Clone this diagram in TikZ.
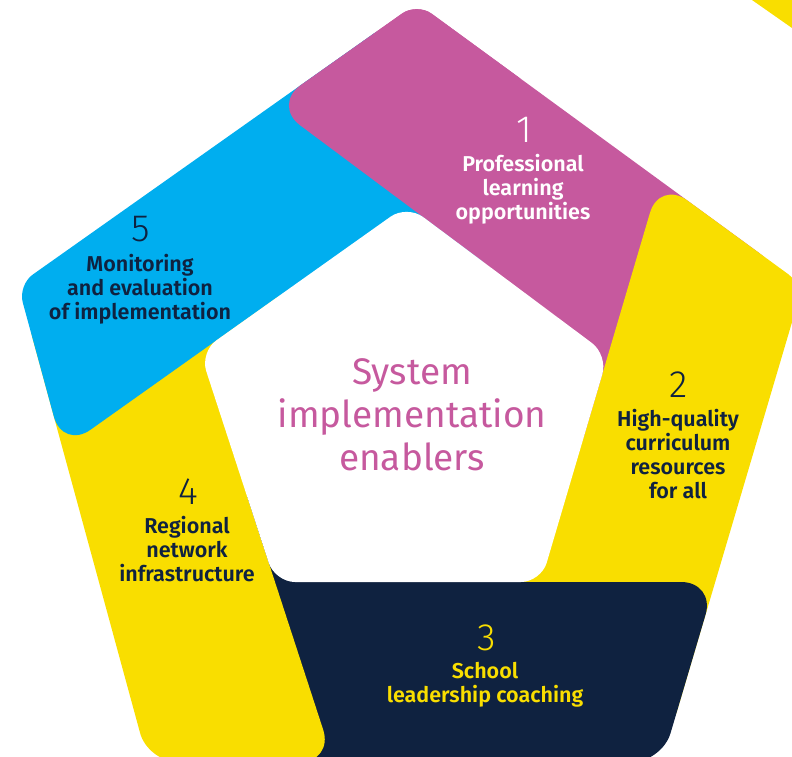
\documentclass[tikz,border=0pt]{standalone}
\usepackage{fontspec}
\setmainfont{Fira Sans}[BoldFont={Fira Sans SemiBold}]
\newfontfamily\lightfont{Fira Sans Light}
\usetikzlibrary{calc}

\definecolor{enpink}{HTML}{C6599E}
\definecolor{enblue}{HTML}{00AEEF}
\definecolor{enyellow}{HTML}{F9DE00}
\definecolor{ennavy}{HTML}{0F2240}

\begin{document}
\begin{tikzpicture}[x=1pt, y=-1pt,
  every node/.style={inner sep=0pt},
  segment/.style={rounded corners=34pt},
  number/.style={font=\lightfont\fontsize{38}{38}\selectfont},
  enabler/.style={font=\bfseries\fontsize{21.5}{24}\selectfont, align=center},
  title/.style={font=\fontsize{37}{43}\selectfont, align=center, text=enpink}]
  \useasboundingbox (0,0) rectangle (792,756);
  \clip (0,0) rectangle (792,756);
  % corners of the outer and the inner pentagon
  \coordinate (o0) at (417,3);
  \coordinate (o1) at (803,285);
  \coordinate (o2) at (662,762);
  \coordinate (o3) at (148,762);
  \coordinate (o4) at (18,285);
  \coordinate (i0) at (407,205);
  \coordinate (i1) at (608,355);
  \coordinate (i2) at (541,582);
  \coordinate (i3) at (275,582);
  \coordinate (i4) at (200,352);
  \coordinate (ctr) at (406,415);
  % pointed start of each band (outer line of the band before meets inner line)
  \coordinate (s0) at (272.8,104.9);
  \coordinate (s1) at (659.6,180.2);
  \coordinate (s2) at (715.2,582);
  \coordinate (s3) at (333.7,762);
  \coordinate (s4) at (62.8,449.4);
  %
  % the five bands, each one over the end of the one before
  \foreach \b/\z/\n/\r/\col in {0/1/2/18pt/enpink, 1/2/3/18pt/enyellow, 2/3/4/30pt/ennavy, 3/4/0/30pt/enyellow, 4/0/1/18pt/enblue}
    \fill[segment, \col] ($(o\b)!0.5!(o\z)$) -- ($(o\z)!20pt!(o\b)$) -- ($(i\z)!0.5!(i\n)$) -- (ctr)
      -- ($(i\b)!0.5!(i\z)$) -- (s\b) [rounded corners=\r] -- (o\b) -- cycle;
  %
  % first band once more, over the end of the last one
  \begin{scope}
    \clip (0,0) rectangle (520,756);
    \fill[segment, enpink] ($(o0)!0.5!(o1)$) -- ($(o1)!20pt!(o0)$) -- ($(i1)!0.5!(i2)$) -- (ctr)
      -- ($(i0)!0.5!(i1)$) -- (s0) [rounded corners=18pt] -- (o0) -- cycle;
  \end{scope}
  %
  % the middle
  \fill[white, rounded corners=20pt] ($(i0)!0.5!(i1)$) -- (i1) -- (i2) -- (i3) -- (i4) -- (i0) -- cycle;
  % corner of the next figure
  \fill[enyellow] (752,0) -- (792,0) -- (792,28) -- cycle;
  %
  % texts
  \node[title] (title) at (412,415) {System\\implementation\\enablers};
  \node[enabler, text=white] (lab1) at (523,189.5) {Professional\\learning\\opportunities};
  \node[number, text=white] (num1) at (524,130) {1};
  \node[enabler, text=ennavy] (lab2) at (678,454) {High-quality\\curriculum\\resources\\for all};
  \node[number, text=ennavy] (num2) at (679,385) {2};
  \node[enabler, text=enyellow] (lab3) at (485,685) {School\\leadership coaching};
  \node[number, text=enyellow] (num3) at (487,638) {3};
  \node[enabler, text=ennavy] (lab4) at (187,549) {Regional\\network\\infrastructure};
  \node[number, text=ennavy] (num4) at (188,492) {4};
  \node[enabler, text=ennavy] (lab5) at (140,289) {Monitoring\\and evaluation\\of implementation};
  \node[number, text=ennavy] (num5) at (141,229) {5};
\end{tikzpicture}
\end{document}
